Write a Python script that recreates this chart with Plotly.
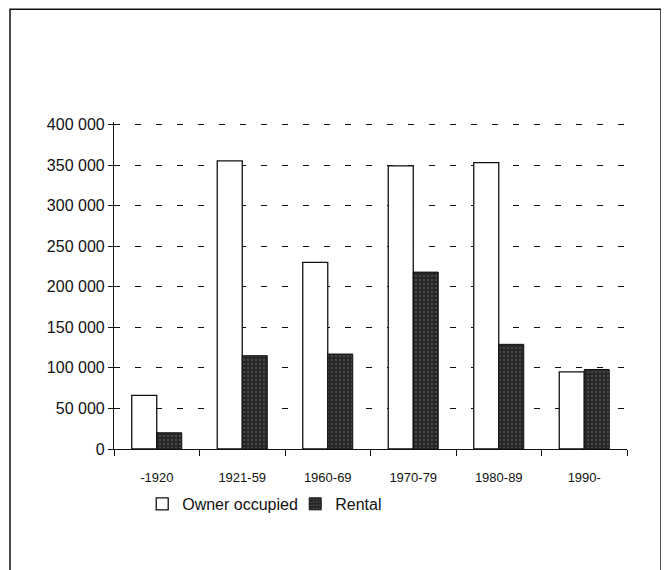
import plotly.graph_objects as go

# Données
periods = ["-1920", "1921-59", "1960-69", "1970-79", "1980-89", "1990-"]
owner_occupied = [66000, 355000, 230000, 349000, 353000, 95000]
rental = [20000, 115000, 117000, 218000, 129000, 98000]
y_ticks = [0, 50000, 100000, 150000, 200000, 250000, 300000, 350000, 400000]
y_labels = ["0", "50 000", "100 000", "150 000", "200 000", "250 000",
            "300 000", "350 000", "400 000"]

BLACK = "#111111"
DARK = "#262626"

fig = go.Figure()
fig.add_trace(go.Bar(
    x=periods, y=owner_occupied, name="Owner occupied",
    marker=dict(color="white", line=dict(color=BLACK, width=1.3)),
))
fig.add_trace(go.Bar(
    x=periods, y=rental, name="Rental",
    marker=dict(color=DARK, line=dict(color=BLACK, width=1),
                pattern=dict(shape=".", bgcolor=DARK, fgcolor="#6a6a6a",
                             size=4, solidity=0.25)),
))

# la page ajoute 8px de marge autour de la figure
fig.update_layout(
    width=661, height=562,
    margin=dict(l=106, r=42, t=114, b=121),
    barmode="group", bargap=0.415, bargroupgap=0,
    font=dict(family="Liberation Sans, Arial, sans-serif", color=BLACK, size=15),
    plot_bgcolor="white", paper_bgcolor="white",
    showlegend=True,
    legend=dict(orientation="h", x=0.055, xanchor="left", y=-0.168, yanchor="middle",
                font=dict(size=16), entrywidth=108, entrywidthmode="pixels",
                tracegroupgap=0, bgcolor="rgba(0,0,0,0)"),
    shapes=[dict(type="rect", xref="paper", yref="paper",
                 x0=-0.2027, x1=1.0663, y0=-0.40, y1=1.345,
                 line=dict(color=BLACK, width=1.5))],
)
fig.update_xaxes(
    showline=True, linecolor=BLACK, linewidth=1.2,
    ticks="outside", ticklen=6, tickcolor=BLACK, tickson="boundaries",
    tickfont=dict(size=13), ticklabelstandoff=16, showgrid=False,
)
fig.update_yaxes(
    range=[0, 403000], tickvals=y_ticks, ticktext=y_labels,
    showline=True, linecolor=BLACK, linewidth=1.2,
    ticks="outside", ticklen=5, tickcolor=BLACK,
    showgrid=True, gridcolor=BLACK, gridwidth=1.3, griddash="6px,15px",
    zeroline=False, tickfont=dict(size=16),
)

fig.write_html("out.html")
